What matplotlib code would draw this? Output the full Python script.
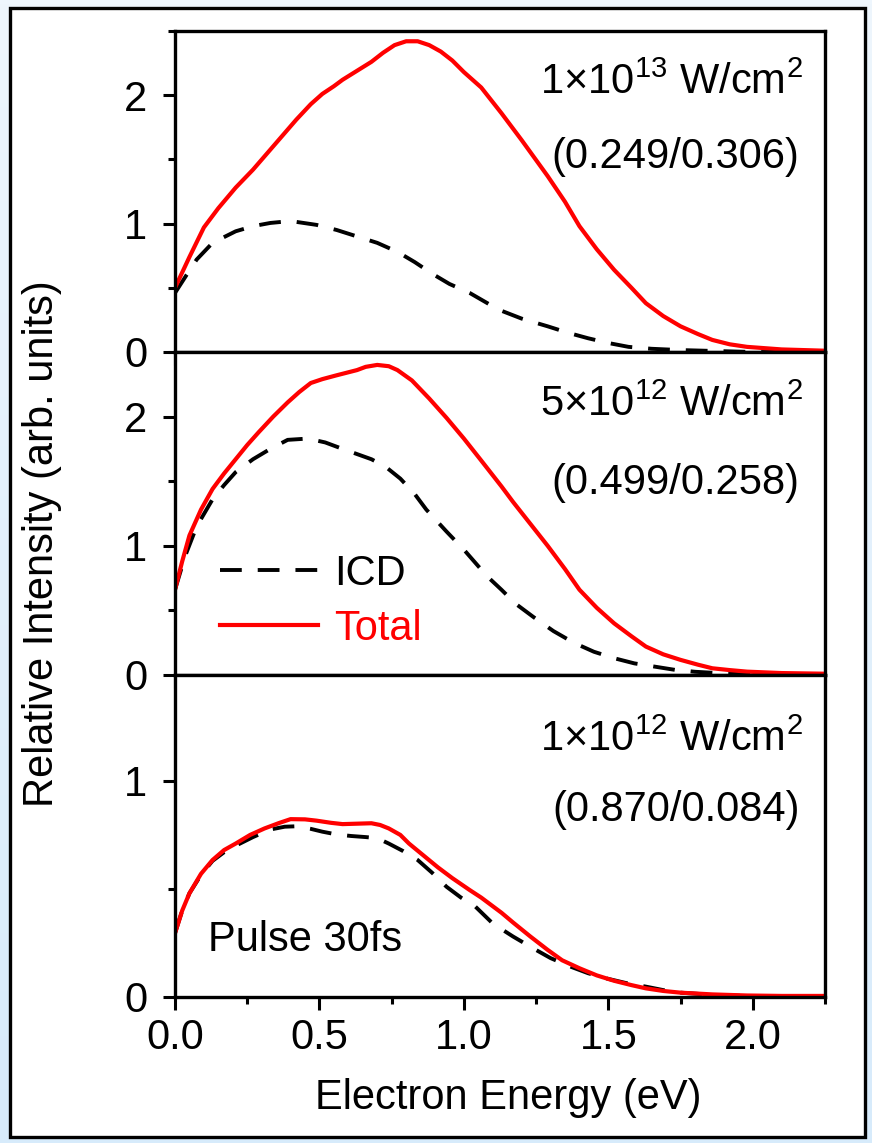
import numpy as np
import matplotlib
matplotlib.use("Agg")
import matplotlib.pyplot as plt
from matplotlib.patches import Rectangle
from matplotlib.colors import LinearSegmentedColormap
from matplotlib.ticker import MultipleLocator, FormatStrFormatter

plt.rcParams["font.family"] = ["Liberation Sans", "DejaVu Sans"]
plt.rcParams["mathtext.fontset"] = "custom"
plt.rcParams["mathtext.rm"] = "Liberation Sans"
plt.rcParams["mathtext.it"] = "Liberation Sans"

# ---- data ----
# top panel: 1e13 W/cm2
e_tot_13 = [0.00, 0.025, 0.05, 0.10, 0.15, 0.21, 0.27, 0.32, 0.37, 0.42, 0.47, 0.51, 0.55, 0.58,
            0.63, 0.68, 0.72, 0.76, 0.80, 0.84, 0.88, 0.92, 0.96, 1.00, 1.06, 1.13, 1.20,
            1.29, 1.35, 1.40, 1.46, 1.52, 1.58, 1.63, 1.69, 1.75, 1.81, 1.86, 1.92, 1.98,
            2.10, 2.25]
y_tot_13 = [0.50, 0.62, 0.74, 0.97, 1.12, 1.28, 1.42, 1.55, 1.68, 1.81, 1.93, 2.01, 2.07, 2.12,
            2.19, 2.26, 2.33, 2.39, 2.42, 2.42, 2.39, 2.34, 2.27, 2.18, 2.06, 1.86, 1.65,
            1.37, 1.17, 0.98, 0.80, 0.64, 0.50, 0.38, 0.28, 0.20, 0.14, 0.094, 0.06, 0.04,
            0.02, 0.01]
e_icd_13 = [0.00, 0.04, 0.075, 0.13, 0.21, 0.27, 0.33, 0.40, 0.49, 0.56, 0.63, 0.70, 0.77,
            0.83, 0.89, 0.95, 1.02, 1.12, 1.20, 1.29, 1.36, 1.43, 1.50, 1.57, 1.65, 1.75,
            2.00, 2.25]
y_icd_13 = [0.46, 0.60, 0.72, 0.85, 0.94, 0.98, 1.005, 1.02, 0.99, 0.95, 0.90, 0.85, 0.78,
            0.70, 0.61, 0.53, 0.46, 0.33, 0.26, 0.20, 0.15, 0.107, 0.07, 0.04, 0.025, 0.015,
            0.0, 0.0]

# middle panel: 5e12 W/cm2
e_tot_5 = [0.00, 0.025, 0.05, 0.09, 0.13, 0.17, 0.21, 0.25, 0.29, 0.34, 0.39, 0.43, 0.47,
           0.51, 0.56, 0.63, 0.66, 0.70, 0.74, 0.77, 0.82, 0.88, 0.94, 1.00, 1.06, 1.13,
           1.17, 1.23, 1.29, 1.35, 1.40, 1.46, 1.52, 1.58, 1.63, 1.69, 1.75, 1.81, 1.86,
           1.92, 1.98, 2.10, 2.25]
y_tot_5 = [0.66, 0.88, 1.08, 1.28, 1.44, 1.56, 1.67, 1.78, 1.88, 2.00, 2.11, 2.19, 2.26,
           2.29, 2.32, 2.36, 2.385, 2.40, 2.39, 2.36, 2.28, 2.14, 1.99, 1.83, 1.66, 1.46,
           1.34, 1.17, 1.00, 0.82, 0.66, 0.52, 0.40, 0.30, 0.22, 0.16, 0.117, 0.08, 0.052,
           0.038, 0.026, 0.015, 0.01]
e_icd_5 = [0.00, 0.035, 0.075, 0.13, 0.17, 0.21, 0.27, 0.33, 0.39, 0.46, 0.52, 0.58, 0.68,
           0.73, 0.78, 0.83, 0.87, 0.94, 1.00, 1.08, 1.13, 1.18, 1.24, 1.31, 1.38, 1.45,
           1.52, 1.59, 1.66, 1.73, 1.80, 1.92, 2.25]
y_icd_5 = [0.66, 0.92, 1.15, 1.36, 1.47, 1.57, 1.67, 1.75, 1.82, 1.83, 1.80, 1.75, 1.67,
           1.61, 1.52, 1.40, 1.28, 1.11, 0.97, 0.765, 0.66, 0.55, 0.45, 0.34, 0.25, 0.18,
           0.13, 0.09, 0.065, 0.04, 0.025, 0.01, 0.0]

# bottom panel: 1e12 W/cm2
e_tot_1 = [0.00, 0.025, 0.05, 0.09, 0.13, 0.17, 0.21, 0.26, 0.31, 0.36, 0.40, 0.45, 0.49,
           0.54, 0.58, 0.63, 0.68, 0.71, 0.74, 0.78, 0.81, 0.86, 0.91, 0.96, 1.02, 1.06,
           1.13, 1.17, 1.23, 1.29, 1.34, 1.40, 1.46, 1.52, 1.58, 1.63, 1.69, 1.75, 1.86,
           1.98, 2.10, 2.25]
y_tot_1 = [0.295, 0.40, 0.48, 0.57, 0.634, 0.68, 0.71, 0.75, 0.78, 0.805, 0.823, 0.822,
           0.816, 0.806, 0.80, 0.802, 0.804, 0.796, 0.78, 0.75, 0.71, 0.655, 0.60, 0.55,
           0.495, 0.46, 0.39, 0.345, 0.28, 0.218, 0.17, 0.133, 0.10, 0.075, 0.055, 0.04,
           0.028, 0.02, 0.012, 0.007, 0.005, 0.005]
e_icd_1 = [0.00, 0.025, 0.05, 0.09, 0.13, 0.17, 0.21, 0.27, 0.33, 0.38, 0.42, 0.47, 0.51,
           0.56, 0.61, 0.66, 0.70, 0.74, 0.79, 0.84, 0.89, 0.94, 0.99, 1.04, 1.10, 1.17,
           1.24, 1.30, 1.37, 1.43, 1.49, 1.56, 1.63, 1.69, 1.75, 1.86, 2.00, 2.25]
y_icd_1 = [0.295, 0.40, 0.48, 0.565, 0.63, 0.67, 0.70, 0.74, 0.775, 0.788, 0.79, 0.778,
           0.765, 0.752, 0.745, 0.74, 0.735, 0.71, 0.675, 0.634, 0.575, 0.51, 0.46, 0.418,
           0.34, 0.28, 0.225, 0.18, 0.14, 0.11, 0.087, 0.065, 0.048, 0.032, 0.02, 0.01,
           0.004, 0.0]

intensity_labels = [r"1$\times$10$^{13}$ W/cm$^{2}$", r"5$\times$10$^{12}$ W/cm$^{2}$",
                    r"1$\times$10$^{12}$ W/cm$^{2}$"]
ratio_labels = ["(0.249/0.306)", "(0.499/0.258)", "(0.870/0.084)"]

FS = 30
RED = "#ff0000"

fig = plt.figure(figsize=(8.72, 11.43), dpi=100)

# light blue backdrop + white framed panel
bg = fig.add_axes([0, 0, 1, 1], zorder=-10)
grad = np.linspace(0, 1, 256).reshape(-1, 1)
cmap = LinearSegmentedColormap.from_list("bg", ["#eef6fd", "#d7ebfb"])
bg.imshow(grad, aspect="auto", cmap=cmap, extent=[0, 1, 0, 1])
bg.add_patch(Rectangle((10 / 872, 6 / 1143), 855 / 872, 1129 / 1143, facecolor="white",
                       edgecolor="black", lw=2.4))
bg.set_xlim(0, 1)
bg.set_ylim(0, 1)
bg.axis("off")

left, width = 175 / 872, 650 / 872
bounds = [(31, 352), (352, 675), (675, 997)]
axes = []
for top, bot in bounds:
    ax = fig.add_axes([left, 1 - bot / 1143, width, (bot - top) / 1143])
    axes.append(ax)

panels = [
    (e_icd_13, y_icd_13, e_tot_13, y_tot_13, 2.5, (0.838, 0.607)),
    (e_icd_5, y_icd_5, e_tot_5, y_tot_5, 2.5, (0.836, 0.594)),
    (e_icd_1, y_icd_1, e_tot_1, y_tot_1, 1.49, (0.798, 0.58)),
]

for i, (ax, (ei, yi, et, yt, ytop, ty)) in enumerate(zip(axes, panels)):
    l1, = ax.plot(ei, yi, color="black", lw=2.8, ls=(0, (5.6, 4.1)), label="ICD",
                  dash_capstyle="butt")
    l2, = ax.plot(et, yt, color=RED, lw=3.0, label="Total", solid_joinstyle="round")
    ax.set_xlim(0, 2.25)
    ax.set_ylim(0, ytop)
    ax.xaxis.set_major_locator(MultipleLocator(0.5))
    ax.xaxis.set_minor_locator(MultipleLocator(0.25))
    ax.yaxis.set_major_locator(MultipleLocator(1))
    ax.yaxis.set_minor_locator(MultipleLocator(0.5))
    ax.tick_params(which="both", direction="out", top=False, right=False, width=2.2,
                   labelsize=FS)
    ax.tick_params(axis="x", pad=6)
    ax.tick_params(axis="y", pad=11)
    ax.tick_params(which="major", length=9)
    ax.tick_params(which="minor", length=5)
    for s in ax.spines.values():
        s.set_linewidth(2.4)
    if i < 2:
        ax.tick_params(labelbottom=False)
    else:
        ax.xaxis.set_major_formatter(FormatStrFormatter("%.1f"))
    ax.text(0.966, ty[0], intensity_labels[i], transform=ax.transAxes, ha="right",
            va="center", fontsize=FS)
    ax.text(0.961, ty[1], ratio_labels[i], transform=ax.transAxes, ha="right",
            va="center", fontsize=FS)
    if i == 1:
        ax.legend(handles=[l1, l2], loc="center left", bbox_to_anchor=(0.069, 0.228),
                  frameon=False, fontsize=FS, handlelength=2.35, handletextpad=0.4,
                  labelspacing=0.36, borderpad=0, borderaxespad=0, labelcolor="linecolor")

axes[2].text(0.051, 0.177, "Pulse 30fs", transform=axes[2].transAxes, ha="left",
             va="center", fontsize=FS)

fig.text(508 / 872, 1 - 1098 / 1143, "Electron Energy (eV)", ha="center", va="center",
         fontsize=FS)
fig.text(42 / 872, 1 - 544 / 1143, "Relative Intensity (arb. units)", ha="center",
         va="center", rotation=90, fontsize=FS)

fig.savefig("out.png", dpi=100)
